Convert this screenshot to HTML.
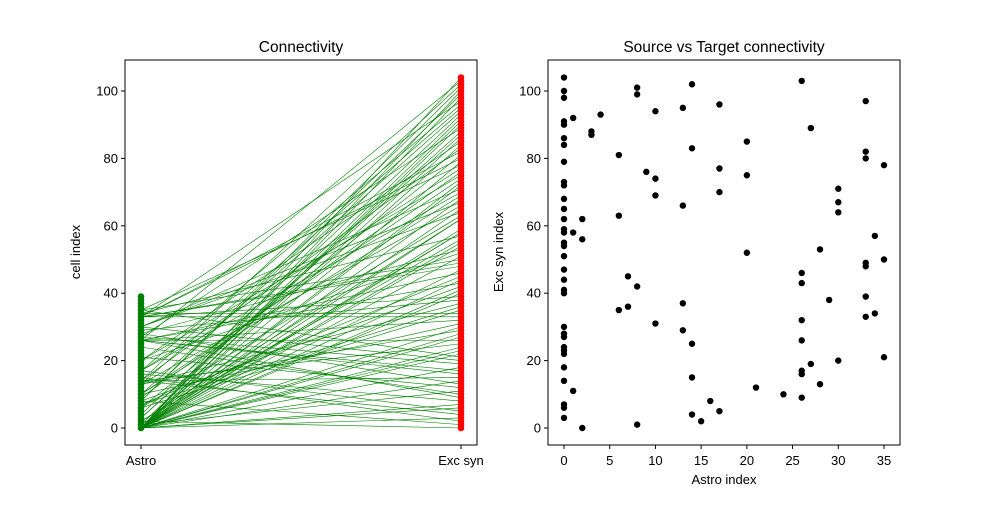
<!DOCTYPE html>
<html><head><meta charset="utf-8"><style>
body{margin:0;background:#fff}
svg{font-family:"Liberation Sans","DejaVu Sans",sans-serif}
</style></head><body>
<svg id="c" width="1000" height="500"></svg>
<script>
const astroIdx=[0,0,0,0,0,0,0,0,0,0,0,0,0,0,0,0,0,0,0,0,0,0,0,0,0,0,0,0,0,0,0,0,0,1,1,1,2,2,2,3,3,4,6,6,6,7,7,8,8,8,8,9,10,10,10,10,13,13,13,13,14,14,14,14,14,15,16,17,17,17,17,20,20,20,21,24,26,26,26,26,26,26,26,26,27,27,28,28,29,30,30,30,30,33,33,33,33,33,33,33,34,34,35,35,35];
const excIdx=[104,100,98,91,90,86,84,79,73,72,68,65,62,59,58,55,54,51,47,44,41,40,30,28,27,24,23,22,18,14,7,6,3,92,58,11,62,56,0,88,87,93,81,63,35,45,36,101,99,42,1,76,94,74,69,31,95,66,37,29,102,83,25,15,4,2,8,96,77,70,5,85,75,52,12,10,103,46,43,32,26,17,16,9,89,19,53,13,38,71,67,64,20,97,82,80,49,48,39,33,57,34,78,50,21];
const nAstro=40, nExc=105;
const yTicks=[0,20,40,60,80,100];
const xTicksR=[0,5,10,15,20,25,30,35];
const NS='http://www.w3.org/2000/svg';
const svg=document.getElementById('c');
function el(t,a,p){const e=document.createElementNS(NS,t);for(const k in a)e.setAttribute(k,a[k]);(p||svg).appendChild(e);return e;}
const yS=v=>428-v*3.37;
const xR=v=>564+v*9.143;
// left
const gL=el('g',{});

for(let i=0;i<astroIdx.length;i++){
  const l=el('line',{x1:141,y1:yS(astroIdx[i]),x2:461,y2:yS(excIdx[i]),stroke:'green','stroke-width':0.6},gL);
  
}
for(let i=0;i<nAstro;i++){const c=el('circle',{cx:141,cy:yS(i),r:3.3,fill:'green'},gL);}
for(let i=0;i<nExc;i++){const c=el('circle',{cx:461,cy:yS(i),r:3.3,fill:'red'},gL);}
el('rect',{x:125,y:60,width:352,height:385,fill:'none',stroke:'#000','stroke-width':1},gL);
yTicks.forEach(v=>{el('line',{x1:121,x2:125,y1:yS(v),y2:yS(v),stroke:'#000'},gL);
 const t=el('text',{x:118,y:yS(v)+4.5,'text-anchor':'end','font-size':13},gL);t.textContent=v;});
[['Astro',141],['Exc syn',461]].forEach(([s,x])=>{el('line',{x1:x,x2:x,y1:445,y2:449,stroke:'#000'},gL);
 const t=el('text',{x:x,y:465,'text-anchor':'middle','font-size':13},gL);t.textContent=s;});
let t=el('text',{x:301,y:52,'text-anchor':'middle','font-size':15.5});t.textContent='Connectivity';
t=el('text',{x:80,y:252,'text-anchor':'middle','font-size':13,transform:'rotate(-90 80 252)'});t.textContent='cell index';
// right
const gR=el('g',{});

for(let i=0;i<astroIdx.length;i++){const c=el('circle',{cx:xR(astroIdx[i]),cy:yS(excIdx[i]),r:3.2,fill:'#000'},gR);}
el('rect',{x:548,y:60,width:352,height:385,fill:'none',stroke:'#000','stroke-width':1},gR);
yTicks.forEach(v=>{el('line',{x1:544,x2:548,y1:yS(v),y2:yS(v),stroke:'#000'},gR);
 const t=el('text',{x:541,y:yS(v)+4.5,'text-anchor':'end','font-size':13},gR);t.textContent=v;});
xTicksR.forEach(v=>{el('line',{x1:xR(v),x2:xR(v),y1:445,y2:449,stroke:'#000'},gR);
 const t=el('text',{x:xR(v),y:465,'text-anchor':'middle','font-size':13},gR);t.textContent=v;});
t=el('text',{x:724,y:52,'text-anchor':'middle','font-size':15.5});t.textContent='Source vs Target connectivity';
t=el('text',{x:724,y:484,'text-anchor':'middle','font-size':13});t.textContent='Astro index';
t=el('text',{x:503,y:252,'text-anchor':'middle','font-size':13,transform:'rotate(-90 503 252)'});t.textContent='Exc syn index';
</script>
</body></html>
